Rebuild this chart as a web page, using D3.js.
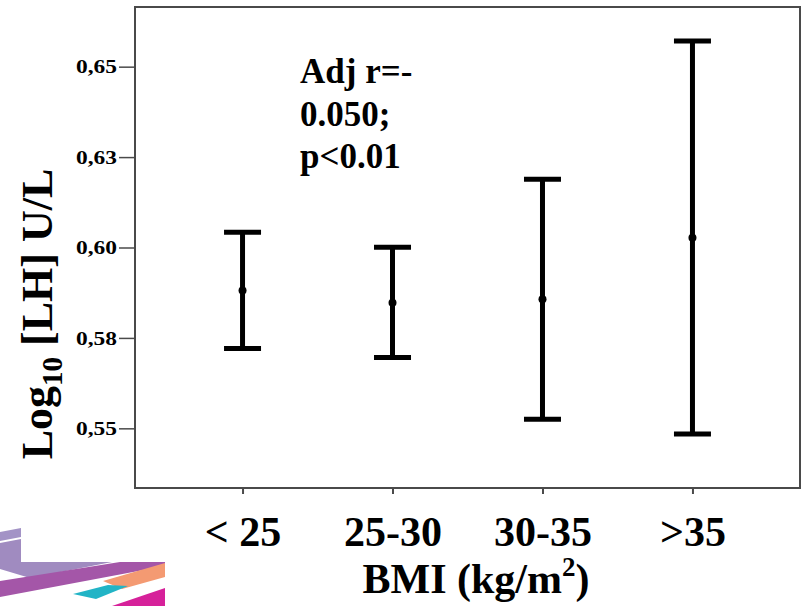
<!DOCTYPE html>
<html>
<head>
<meta charset="utf-8">
<script src="https://cdn.jsdelivr.net/npm/d3@7"></script>
<style>
  html, body { margin: 0; padding: 0; background: #fff; }
  svg { display: block; }
  text { font-family: "Liberation Serif", "Times New Roman", serif; font-weight: bold; fill: #000; }
</style>
</head>
<body>
<svg id="chart" width="807" height="606"></svg>
<script>
// ---- data ----
const categories = ["< 25", "25-30", "30-35", ">35"];
const means      = [0.5881, 0.5847, 0.5857, 0.6027];
const lower      = [0.5721, 0.5696, 0.5525, 0.5484];
const upper      = [0.6042, 0.6001, 0.6189, 0.6571];
const yTickValues = [0.55, 0.575, 0.60, 0.625, 0.65];
const yTickLabels = ["0,55", "0,58", "0,60", "0,63", "0,65"];
const yDomain = [0.5335, 0.6665];
const annotationLines = ["Adj r=-", "0.050;", "p<0.01"];

// ---- layout ----
const svg = d3.select("#chart");
const plot = { left: 135, right: 800, top: 7, bottom: 488 };

const x = d3.scalePoint().domain(categories).range([plot.left, plot.right]).padding(0.717);
const y = d3.scaleLinear().domain(yDomain).range([plot.bottom, plot.top]);

// decorative stripes bottom-left
const deco = svg.append("g");
const shapes = [
  { c: "#a393c6", p: [[0,532],[21,528],[21,537],[0,541]] },
  { c: "#a08bc0", p: [[0,543],[21,539],[21,562],[112,562],[30,578],[0,569]] },
  { c: "#a456a8", p: [[0,581],[120,562],[165,562],[165,566],[0,597]] },
  { c: "#f49a72", p: [[103,581],[165,563],[165,577],[122,589]] },
  { c: "#22b4c6", p: [[73,594],[108,585],[128,586],[96,599]] },
  { c: "#d6219a", p: [[112,606],[165,588],[165,606]] }
];
deco.selectAll("polygon").data(shapes).join("polygon")
  .attr("points", d => d.p.map(q => q.join(",")).join(" "))
  .attr("fill", d => d.c);

// frame
svg.append("rect")
  .attr("x", plot.left).attr("y", plot.top)
  .attr("width", plot.right - plot.left).attr("height", plot.bottom - plot.top)
  .attr("fill", "none").attr("stroke", "#4a4a4a").attr("stroke-width", 2);

// y axis
const yAxis = svg.append("g").attr("transform", `translate(${plot.left},0)`)
  .call(d3.axisLeft(y).tickValues(yTickValues).tickSize(16).tickPadding(2)
    .tickFormat((d, i) => yTickLabels[i]));
yAxis.select(".domain").remove();
yAxis.selectAll(".tick line").attr("stroke", "#4a4a4a").attr("stroke-width", 1.5);
yAxis.selectAll(".tick text")
  .style("font-family", "'Liberation Serif', serif").style("font-weight", "bold")
  .attr("font-size", 19).attr("fill", "#000")
  .attr("textLength", 41).attr("lengthAdjust", "spacingAndGlyphs");

// x axis
const xAxis = svg.append("g").attr("transform", `translate(0,${plot.bottom})`)
  .call(d3.axisBottom(x).tickSize(6).tickPadding(22));
xAxis.select(".domain").remove();
xAxis.selectAll(".tick line").attr("stroke", "#4a4a4a").attr("stroke-width", 2);
xAxis.selectAll(".tick text")
  .style("font-family", "'Liberation Serif', serif").style("font-weight", "bold")
  .attr("font-size", 42).attr("fill", "#000").attr("dy", "0.71em");

// error bars
const data = categories.map((c, i) => ({ c, m: means[i], lo: lower[i], hi: upper[i] }));
const capW = 37;
const bars = svg.append("g").selectAll("g").data(data).join("g");
bars.append("line")
  .attr("x1", d => x(d.c)).attr("x2", d => x(d.c))
  .attr("y1", d => y(d.hi)).attr("y2", d => y(d.lo))
  .attr("stroke", "#000").attr("stroke-width", 5);
bars.append("line")
  .attr("x1", d => x(d.c) - capW / 2).attr("x2", d => x(d.c) + capW / 2)
  .attr("y1", d => y(d.hi)).attr("y2", d => y(d.hi))
  .attr("stroke", "#000").attr("stroke-width", 5);
bars.append("line")
  .attr("x1", d => x(d.c) - capW / 2).attr("x2", d => x(d.c) + capW / 2)
  .attr("y1", d => y(d.lo)).attr("y2", d => y(d.lo))
  .attr("stroke", "#000").attr("stroke-width", 5);
bars.append("circle")
  .attr("cx", d => x(d.c)).attr("cy", d => y(d.m)).attr("r", 4).attr("fill", "#000");

// annotation
const ann = svg.append("text").attr("font-size", 35);
ann.selectAll("tspan").data(annotationLines).join("tspan")
  .attr("x", 300).attr("y", (d, i) => 83 + i * 42.5)
  .text(d => d);

// y title
const yt = svg.append("text")
  .attr("transform", "translate(52,314) rotate(-90)")
  .attr("text-anchor", "middle").attr("font-size", 44);
yt.append("tspan").text("Log");
yt.append("tspan").attr("font-size", 29).attr("dy", 10).text("10");
yt.append("tspan").attr("dy", -10).text(" [LH] U/L");

// x title
const xt = svg.append("text")
  .attr("x", 476).attr("y", 593).attr("text-anchor", "middle").attr("font-size", 42);
xt.append("tspan").text("BMI (kg/m");
xt.append("tspan").attr("font-size", 27).attr("dy", -17).text("2");
xt.append("tspan").attr("dy", 17).text(")");
</script>
</body>
</html>
